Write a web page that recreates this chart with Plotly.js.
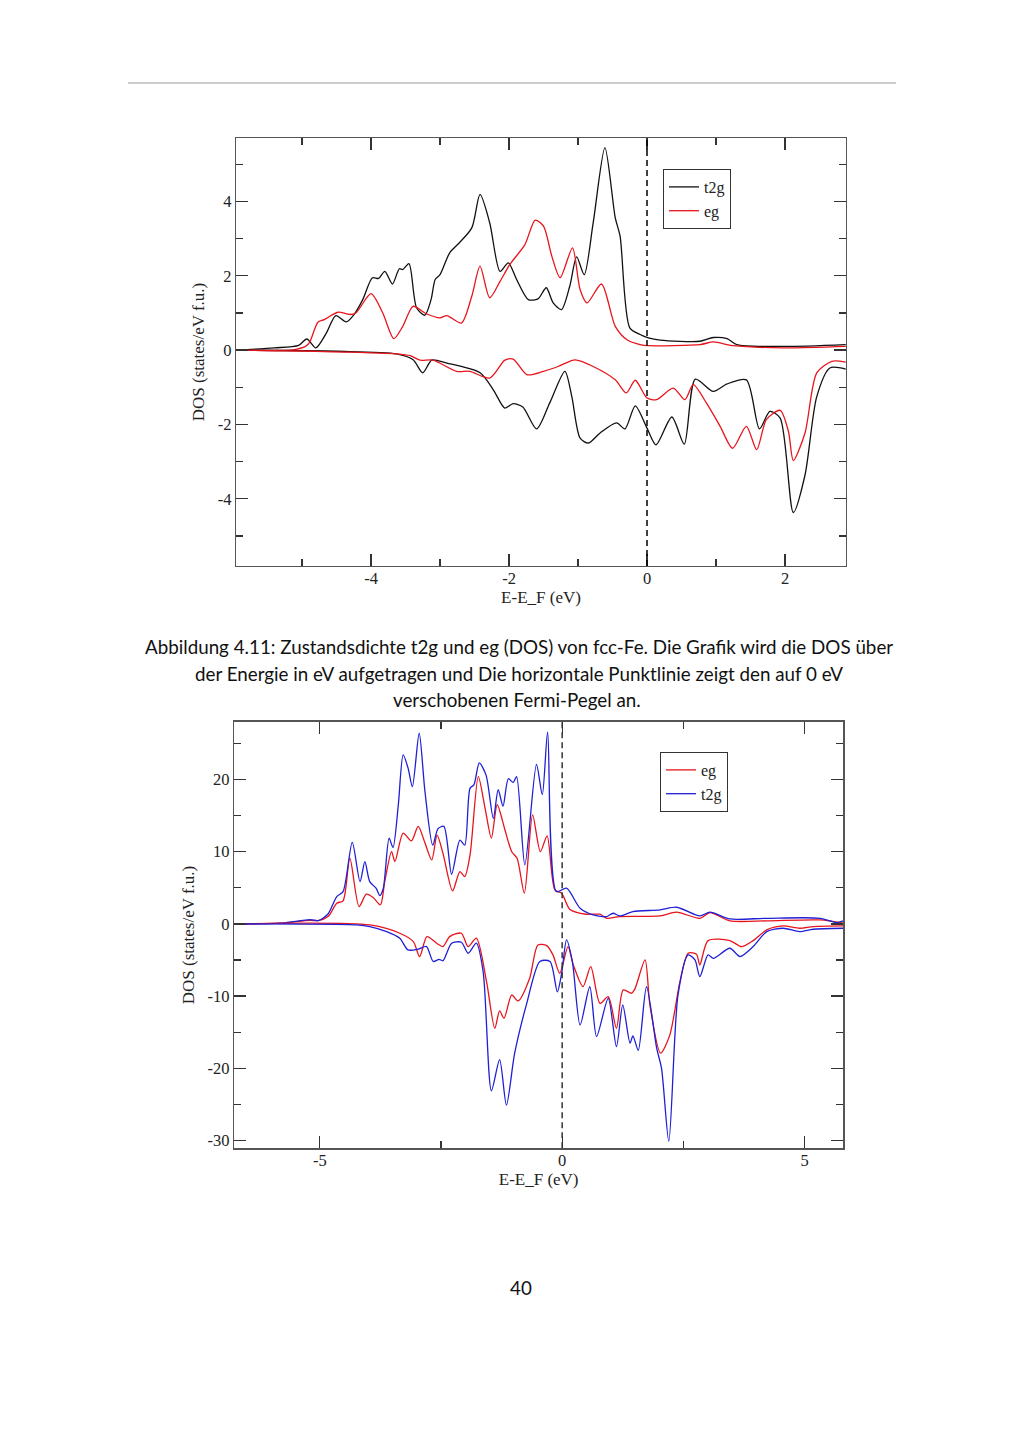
<!DOCTYPE html>
<html>
<head>
<meta charset="utf-8">
<script src="https://cdn.plot.ly/plotly-3.0.1.min.js"></script>
<style>
html,body{margin:0;padding:0;background:#fff;}
#chart{width:1024px;height:1448px;}
</style>
</head>
<body>
<div id="chart"></div>
<script>
// ---------- Chart 1 (t2g / eg, black & red) ----------
const c1_t2g_up_x = [-5.96,-5.40,-5.05,-4.93,-4.80,-4.65,-4.51,-4.36,-4.25,-4.12,-3.98,-3.89,-3.80,-3.69,-3.59,-3.54,-3.45,-3.34,-3.22,-3.13,-3.07,-3.00,-2.86,-2.73,-2.54,-2.42,-2.28,-2.13,-2.01,-1.89,-1.72,-1.58,-1.46,-1.36,-1.24,-1.12,-1.02,-0.91,-0.78,-0.61,-0.46,-0.39,-0.25,-0.10,0.02,0.19,0.77,0.96,1.16,1.30,1.98,2.88];
const c1_t2g_up_y = [0.0,0.06,0.13,0.30,0.06,0.45,0.93,0.76,0.95,1.36,1.95,1.93,2.12,1.78,2.19,2.17,2.33,1.14,0.94,1.36,1.90,2.03,2.62,2.87,3.29,4.19,3.43,2.12,2.35,1.90,1.36,1.38,1.68,1.27,1.09,1.72,2.51,2.03,3.43,5.45,3.56,3.07,0.60,0.42,0.33,0.27,0.24,0.34,0.31,0.15,0.10,0.15];

const c1_eg_up_x = [-5.96,-5.13,-4.95,-4.89,-4.77,-4.68,-4.48,-4.31,-4.22,-4.00,-3.83,-3.67,-3.54,-3.39,-3.20,-3.00,-2.90,-2.69,-2.54,-2.42,-2.28,-2.13,-1.99,-1.77,-1.62,-1.50,-1.38,-1.26,-1.08,-0.97,-0.87,-0.66,-0.46,-0.29,-0.10,0.02,0.77,0.96,1.25,1.98,2.88];
const c1_eg_up_y = [0,0.01,0.10,0.21,0.75,0.82,1.02,0.96,1.00,1.52,1.00,0.31,0.64,1.18,0.98,0.87,0.93,0.73,1.45,2.26,1.41,1.85,2.30,2.84,3.50,3.34,2.53,1.95,2.75,1.63,1.27,1.78,0.64,0.28,0.15,0.12,0.15,0.22,0.12,0.06,0.10];

const c1_t2g_dn_x = [-5.96,-4.50,-3.63,-3.39,-3.25,-3.12,-2.90,-2.42,-2.23,-2.06,-1.94,-1.80,-1.60,-1.41,-1.19,-1.09,-0.97,-0.85,-0.68,-0.44,-0.32,-0.17,0.00,0.13,0.36,0.54,0.70,0.96,1.16,1.44,1.63,1.78,1.93,2.12,2.29,2.46,2.65,2.88];
const c1_t2g_dn_y = [0,-0.03,-0.10,-0.26,-0.61,-0.27,-0.35,-0.61,-1.06,-1.56,-1.44,-1.53,-2.12,-1.42,-0.57,-1.25,-2.37,-2.50,-2.23,-1.96,-2.12,-1.50,-2.10,-2.55,-1.80,-2.53,-0.78,-1.11,-0.91,-0.80,-2.12,-1.65,-1.83,-4.37,-3.36,-1.25,-0.48,-0.51];

const c1_eg_dn_x = [-5.96,-4.83,-3.63,-3.43,-3.29,-3.10,-2.76,-2.57,-2.28,-2.06,-1.94,-1.74,-1.50,-1.29,-1.04,-0.78,-0.46,-0.30,-0.17,0.00,0.14,0.38,0.55,0.67,0.86,1.06,1.24,1.44,1.59,1.73,1.93,2.05,2.12,2.29,2.46,2.68,2.88];
const c1_eg_dn_y = [0,-0.03,-0.10,-0.15,-0.27,-0.27,-0.57,-0.57,-0.75,-0.27,-0.24,-0.66,-0.57,-0.44,-0.26,-0.44,-0.80,-1.15,-0.81,-1.29,-1.33,-1.02,-1.33,-0.93,-1.42,-2.05,-2.64,-2.05,-2.68,-1.87,-1.62,-2.19,-2.97,-2.23,-0.61,-0.30,-0.32];

const c1_xtick_vals = [-4,-2,0,2];
const c1_xtick_text = ["-4","-2","0","2"];
const c1_ytick_vals = [-4,-2,0,2,4];
const c1_ytick_text = ["-4","-2","0","2","4"];

// ---------- Chart 2 (eg / t2g, red & blue) ----------
const c2_eg_up_x = [-6.77,-5.82,-5.20,-5.03,-4.83,-4.65,-4.52,-4.38,-4.19,-4.04,-3.90,-3.75,-3.66,-3.52,-3.45,-3.28,-3.11,-2.97,-2.83,-2.69,-2.58,-2.46,-2.26,-2.11,-2.01,-1.90,-1.73,-1.59,-1.46,-1.34,-1.18,-1.04,-0.93,-0.78,-0.61,-0.45,-0.31,-0.15,-0.01,0.16,0.50,0.78,0.92,1.19,2.02,2.36,2.84,3.05,3.46,4.22,5.32,5.80];
const c2_eg_up_y = [0,0.1,0.5,0.46,1.01,2.86,3.2,9.1,2.4,4.11,3.65,2.63,5.86,10.0,8.63,12.56,11.5,13.5,11.2,8.86,12.3,9.8,4.57,7.25,6.55,9.56,20.4,16.0,11.87,16.5,13.0,10.0,9.1,4.25,15.1,10.0,12.2,4.7,4.25,2.0,1.34,1.34,0.78,1.02,1.11,1.62,0.78,1.57,0.42,0.42,0.55,0.1];

const c2_t2g_up_x = [-6.77,-5.82,-5.20,-5.03,-4.83,-4.65,-4.52,-4.33,-4.17,-4.07,-3.97,-3.84,-3.76,-3.69,-3.57,-3.49,-3.38,-3.28,-3.18,-3.09,-2.95,-2.83,-2.67,-2.56,-2.44,-2.28,-2.11,-2.01,-1.90,-1.82,-1.71,-1.57,-1.42,-1.32,-1.22,-1.11,-1.01,-0.94,-0.77,-0.53,-0.41,-0.30,-0.12,0.09,0.37,0.64,0.92,1.05,1.19,1.46,2.02,2.36,2.84,3.05,3.46,4.22,5.32,5.66,5.80];
const c2_t2g_up_y = [0,0.1,0.6,0.46,1.38,3.78,4.48,11.3,5.86,8.63,5.86,4.94,3.92,4.94,11.87,10.57,16.5,23.4,21.6,19.0,26.4,18.3,10.9,13.2,13.5,6.88,11.6,10.9,18.8,19.25,22.3,20.6,14.6,18.6,16.3,20.1,19.6,20.4,8.17,22.1,17.9,26.55,4.48,4.94,2.17,1.25,1.02,1.48,1.11,1.71,1.94,2.31,1.11,1.62,0.69,0.78,0.78,0.18,0.42];

const c2_eg_dn_x = [-6.77,-3.97,-3.35,-3.07,-2.94,-2.79,-2.59,-2.46,-2.32,-2.08,-1.94,-1.77,-1.56,-1.39,-1.29,-1.20,-1.04,-0.91,-0.67,-0.50,-0.32,-0.19,-0.05,0.12,0.23,0.43,0.59,0.78,0.95,1.12,1.26,1.43,1.50,1.71,1.81,2.03,2.22,2.43,2.60,2.77,2.84,3.01,3.46,3.70,3.94,4.22,4.56,4.90,5.18,5.80];
const c2_eg_dn_y = [0,-0.14,-1.29,-2.45,-4.53,-1.76,-2.67,-3.14,-1.76,-1.29,-3.14,-1.98,-8.0,-14.45,-12.05,-13.06,-9.83,-10.66,-7.52,-2.91,-3.0,-4.29,-6.83,-3.14,-5.68,-8.68,-5.91,-11.0,-10.07,-14.45,-9.14,-9.6,-9.0,-4.99,-11.2,-17.9,-15.4,-8.0,-4.06,-4.2,-5.68,-2.31,-2.31,-3.14,-2.31,-0.83,-0.28,-0.6,-0.37,-0.28];

const c2_t2g_dn_x = [-6.77,-4.24,-3.97,-3.62,-3.35,-3.18,-2.97,-2.80,-2.66,-2.54,-2.46,-2.28,-2.08,-1.94,-1.77,-1.63,-1.46,-1.29,-1.15,-0.98,-0.73,-0.46,-0.25,-0.10,-0.01,0.09,0.21,0.37,0.57,0.71,0.95,1.12,1.25,1.40,1.46,1.57,1.74,1.95,2.05,2.20,2.39,2.60,2.74,2.84,3.01,3.12,3.46,3.67,3.94,4.22,4.56,4.90,5.18,5.80];
const c2_t2g_dn_y = [0,-0.14,-0.37,-1.07,-1.98,-3.6,-3.5,-3.14,-5.2,-4.9,-5.1,-2.67,-2.54,-4.06,-2.67,-6.6,-23.1,-18.8,-25.1,-17.9,-11.0,-5.2,-5.2,-9.4,-6.83,-2.2,-5.2,-14.0,-8.7,-15.6,-10.3,-17.0,-11.2,-16.5,-15.5,-17.5,-8.7,-17.2,-20.0,-30.1,-9.83,-4.29,-4.99,-7.3,-4.29,-4.76,-3.37,-4.52,-3.14,-1.07,-0.6,-1.07,-0.74,-0.6];

const c2_xtick_vals = [-5,0,5];
const c2_xtick_text = ["-5","0","5"];
const c2_ytick_vals = [-30,-20,-10,0,10,20];
const c2_ytick_text = ["-30","-20","-10","0","10","20"];

// ---------- Text ----------
const captionLines = [
  "Abbildung 4.11: Zustandsdichte t2g und eg (DOS) von fcc-Fe. Die Grafik wird die DOS über",
  "der Energie in eV aufgetragen und Die horizontale Punktlinie zeigt den auf 0 eV",
  "verschobenen Fermi-Pegel an."
];
const pageNumber = "40";

// ---------- Styles ----------
const W = 1024, H = 1448;
const SERIF = "Liberation Serif, Times New Roman, serif";
const SANS = "Lato, Open Sans, sans-serif";
const BLACK = "#111111", RED = "#e8141c", BLUE = "#1f1fd6";

function ln(x, y, color, name, xa, ya, legend, showleg, group) {
  return {x: x, y: y, type: "scatter", mode: "lines", name: name,
    line: {color: color, width: 1.3, shape: "spline", smoothing: 0.75},
    xaxis: xa, yaxis: ya, legend: legend, showlegend: showleg, legendgroup: group,
    hoverinfo: "skip"};
}

const traces = [
  ln(c1_t2g_up_x, c1_t2g_up_y, BLACK, "t2g", "x", "y", "legend", true, "a1"),
  ln(c1_eg_up_x, c1_eg_up_y, RED, "eg", "x", "y", "legend", true, "b1"),
  ln(c1_t2g_dn_x, c1_t2g_dn_y, BLACK, "t2g", "x", "y", "legend", false, "a1"),
  ln(c1_eg_dn_x, c1_eg_dn_y, RED, "eg", "x", "y", "legend", false, "b1"),
  ln(c2_eg_up_x, c2_eg_up_y, RED, "eg", "x2", "y2", "legend2", true, "a2"),
  ln(c2_t2g_up_x, c2_t2g_up_y, BLUE, "t2g", "x2", "y2", "legend2", true, "b2"),
  ln(c2_eg_dn_x, c2_eg_dn_y, RED, "eg", "x2", "y2", "legend2", false, "a2"),
  ln(c2_t2g_dn_x, c2_t2g_dn_y, BLUE, "t2g", "x2", "y2", "legend2", false, "b2")
];

function axis(extra) {
  return Object.assign({
    showline: true, linecolor: "#555", linewidth: 1.3, mirror: "ticks",
    ticks: "inside", ticklen: 12, tickwidth: 1.3, tickcolor: "#333",
    showgrid: false, zeroline: false, tickmode: "array",
    tickfont: {family: SERIF, size: 16.5, color: "#222"},
    fixedrange: true
  }, extra);
}
function minor(d) {
  return {ticks: "inside", ticklen: 7, tickwidth: 1.3, tickcolor: "#333",
          tickmode: "linear", tick0: 0, dtick: d, showgrid: false};
}
const titleFont = {family: SERIF, size: 17, color: "#222"};
const legFont = {family: SERIF, size: 16, color: "#222"};

const layout = {
  width: W, height: H,
  margin: {l: 0, r: 0, t: 0, b: 0},
  paper_bgcolor: "#fff", plot_bgcolor: "#fff",
  xaxis: axis({domain: [236/W, 846/W], range: [-5.957, 2.884], anchor: "y",
    tickvals: c1_xtick_vals, ticktext: c1_xtick_text, minor: minor(1), ticklabelstandoff: -3,
    title: {text: "E-E_F (eV)", font: titleFont, standoff: 0}}),
  yaxis: axis({domain: [1-566/H, 1-138/H], range: [-5.81, 5.71], anchor: "x",
    tickvals: c1_ytick_vals, ticktext: c1_ytick_text, minor: minor(1),
    title: {text: "DOS (states/eV f.u.)", font: titleFont, standoff: 8}}),
  xaxis2: axis({domain: [234/W, 843.3/W], range: [-6.77, 5.80], anchor: "y2",
    tickvals: c2_xtick_vals, ticktext: c2_xtick_text, minor: minor(2.5), ticklabelstandoff: -3,
    title: {text: "E-E_F (eV)", font: titleFont, standoff: 0}}),
  yaxis2: axis({domain: [1-1148.3/H, 1-721.7/H], range: [-31.07, 28.0], anchor: "x2",
    tickvals: c2_ytick_vals, ticktext: c2_ytick_text, minor: minor(5),
    title: {text: "DOS (states/eV f.u.)", font: titleFont, standoff: 8}}),
  legend: {x: 663/W, y: 1-169/H, xanchor: "left", yanchor: "top",
    bgcolor: "#fff", bordercolor: "#333", borderwidth: 1,
    font: legFont, tracegroupgap: 0},
  legend2: {x: 660/W, y: 1-752/H, xanchor: "left", yanchor: "top",
    bgcolor: "#fff", bordercolor: "#333", borderwidth: 1,
    font: legFont, tracegroupgap: 0},
  shapes: [
    {type: "line", xref: "paper", yref: "paper", x0: 128/W, x1: 896/W, y0: 1-83/H, y1: 1-83/H,
     line: {color: "#9a9a9a", width: 1}},
    {type: "line", xref: "x", yref: "y domain", x0: 0, x1: 0, y0: 0, y1: 1,
     line: {color: "#000", width: 1.5, dash: "6px,4px"}},
    {type: "line", xref: "x2", yref: "y2 domain", x0: 0, x1: 0, y0: 0, y1: 1,
     line: {color: "#333", width: 1.5, dash: "6px,4px"}}
  ],
  annotations: [
    {text: captionLines[0], xref: "paper", yref: "paper", x: 519/W, y: 1-647/H, showarrow: false,
     xanchor: "center", yanchor: "middle", font: {family: SANS, size: 18.8, color: "#111"}},
    {text: captionLines[1], xref: "paper", yref: "paper", x: 519/W, y: 1-673/H, showarrow: false,
     xanchor: "center", yanchor: "middle", font: {family: SANS, size: 18.8, color: "#111"}},
    {text: captionLines[2], xref: "paper", yref: "paper", x: 517/W, y: 1-699/H, showarrow: false,
     xanchor: "center", yanchor: "middle", font: {family: SANS, size: 18.8, color: "#111"}},
    {text: pageNumber, xref: "paper", yref: "paper", x: 521/W, y: 1-1287/H, showarrow: false,
     xanchor: "center", yanchor: "middle", font: {family: SANS, size: 18.8, color: "#111"}}
  ]
};

Plotly.newPlot("chart", traces, layout, {staticPlot: true, displayModeBar: false});
</script>
</body>
</html>
